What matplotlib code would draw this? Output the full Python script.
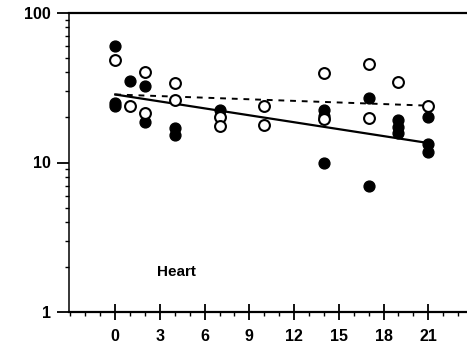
import matplotlib
matplotlib.use("Agg")
import matplotlib.pyplot as plt
from matplotlib.ticker import MultipleLocator, FixedLocator, LogLocator, NullFormatter

# Days and values (filled = treated, open = control)
filled_days = [0, 0, 0, 1, 2, 2, 4, 4, 7, 14, 14, 14, 17, 17, 19, 19, 19, 21, 21, 21]
filled_vals = [60, 24, 25, 35, 32.5, 18.7, 17, 15.3, 22.4, 22.4, 20.5, 9.9, 27, 7.0, 19.2, 17.3, 15.8, 20, 13.3, 11.7]

open_days = [0, 1, 2, 2, 4, 4, 7, 7, 10, 10, 14, 14, 17, 17, 19, 21]
open_vals = [48.5, 24, 40, 21.4, 34, 26.2, 20, 17.5, 23.9, 17.8, 39.7, 19.5, 45.6, 19.9, 34.5, 23.9]

trend_days = [0, 21]
filled_trend = [28.5, 13.5]
open_trend = [28.5, 24.0]

xticks = [0, 3, 6, 9, 12, 15, 18, 21]
yticks = [1, 10, 100]
ytick_labels = ["1", "10", "100"]
panel_label = "Heart"

plt.rcParams['font.family'] = ['Liberation Sans', 'DejaVu Sans']
fig = plt.figure(figsize=(4.67, 3.51), dpi=100)
ax = fig.add_axes([69/467, 1-312/351, 1-69/467, (312-13)/351])

ax.set_yscale('log')
ax.set_ylim(1, 100)
ax.set_xlim(-3.1, 23.6)

ax.plot(trend_days, filled_trend, color='black', lw=1.6, zorder=2)
ax.plot(trend_days, open_trend, color='black', lw=1.4, ls=(0, (3, 3)), zorder=2)

ax.plot(filled_days, filled_vals, 'o', ms=7.8, mfc='black', mec='black', zorder=3)
ax.plot(open_days, open_vals, 'o', ms=7.8, mfc='white', mec='black', mew=1.5, zorder=4)

ax.spines['right'].set_visible(False)
ax.spines['left'].set_linewidth(1.1)
for s in ['bottom', 'top']:
    ax.spines[s].set_linewidth(1.6)

ax.xaxis.set_major_locator(FixedLocator(xticks))
ax.xaxis.set_minor_locator(MultipleLocator(1))
ax.set_xticklabels([str(t) for t in xticks], fontweight='bold', fontsize=11.5)
ax.yaxis.set_major_locator(FixedLocator(yticks))
ax.set_yticklabels(ytick_labels, fontweight='bold', fontsize=11.5)
ax.yaxis.set_minor_locator(LogLocator(base=10, subs=range(2, 10)))
ax.yaxis.set_minor_formatter(NullFormatter())

ax.tick_params(axis='x', which='major', direction='inout', length=12, width=1.3, pad=6)
ax.tick_params(axis='x', which='minor', direction='out', length=3, width=1)
ax.tick_params(axis='y', which='major', direction='out', length=9, width=1.3, pad=4)
ax.tick_params(axis='y', which='minor', direction='out', length=3, width=1)

ax.text(2.8, 1.75, panel_label, fontweight='bold', fontsize=11)

fig.savefig('out.png', dpi=100)
